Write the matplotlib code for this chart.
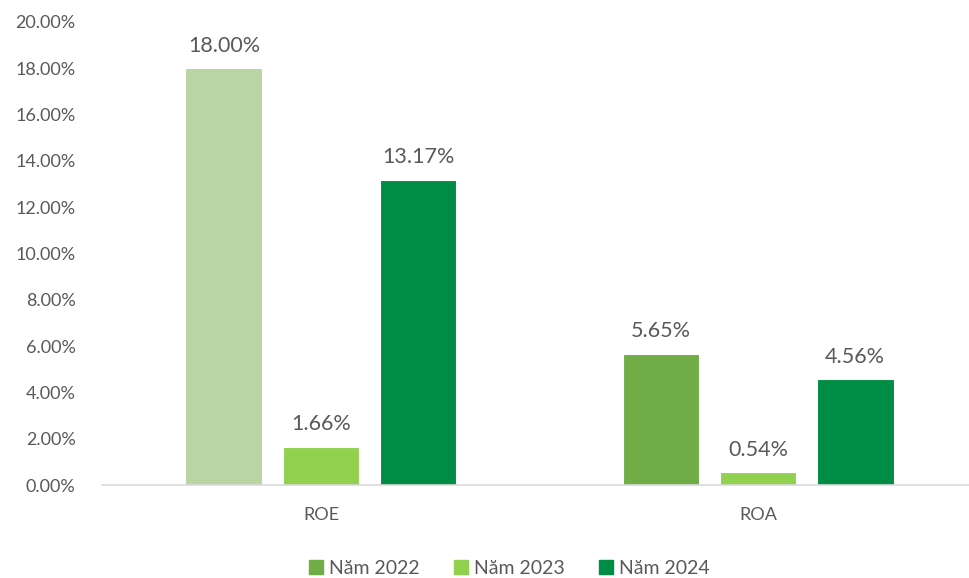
import numpy as np
import matplotlib.pyplot as plt
from matplotlib.patches import Patch

plt.rcParams['font.family'] = ['Lato', 'DejaVu Sans']

categories = ['ROE', 'ROA']
series = ['Năm 2022', 'Năm 2023', 'Năm 2024']
val_2022 = [18.00, 5.65]
val_2023 = [1.66, 0.54]
val_2024 = [13.17, 4.56]
yticks = [0, 2, 4, 6, 8, 10, 12, 14, 16, 18, 20]

# ROE 2022 bar is drawn lighter in the original
colors_2022 = ['#b8d5a3', '#70ad47']
color_2023 = '#92d050'
color_2024 = '#008c44'
txt = '#595959'


def main():
    fig = plt.figure(figsize=(9.7, 5.78), dpi=100)
    ax = fig.add_axes([102 / 970, 1 - 485 / 578, 868 / 970, (485 - 22) / 578])

    x = np.arange(len(categories))
    w = 0.176
    step = 0.222
    data = [(val_2022, colors_2022), (val_2023, [color_2023] * 2), (val_2024, [color_2024] * 2)]
    for i, (vals, cols) in enumerate(data):
        bars = ax.bar(x + (i - 1) * step, vals, width=w, color=cols,
                      edgecolor='white', linewidth=0.8, zorder=2)
        for b, v in zip(bars, vals):
            ax.text(b.get_x() + b.get_width() / 2, v + 0.55, f'{v:.2f}%',
                    ha='center', va='bottom', fontsize=15.5, color=txt)

    ax.set_xlim(-0.501, 1.485)
    ax.set_ylim(0, 20)
    ax.set_yticks(yticks)
    ax.set_yticklabels([f'{t:.2f}%' for t in yticks])
    ax.set_xticks(x)
    ax.set_xticklabels(categories)
    ax.tick_params(axis='y', length=0, labelsize=13, labelcolor=txt, pad=19)
    ax.tick_params(axis='x', length=0, labelsize=13, labelcolor=txt, pad=16)
    for s in ['top', 'right', 'left']:
        ax.spines[s].set_visible(False)
    ax.spines['bottom'].set_color('#d9d9d9')
    ax.spines['bottom'].set_linewidth(1.2)

    handles = [Patch(color='#70ad47'), Patch(color=color_2023), Patch(color=color_2024)]
    fig.legend(handles, series, loc='center', bbox_to_anchor=(0.525, 0.017),
               ncol=3, frameon=False, fontsize=14, labelcolor=txt,
               handlelength=0.7, handleheight=0.7, handletextpad=0.3, columnspacing=1.8)

    fig.savefig('out.png', dpi=100)


if __name__ == '__main__':
    main()
